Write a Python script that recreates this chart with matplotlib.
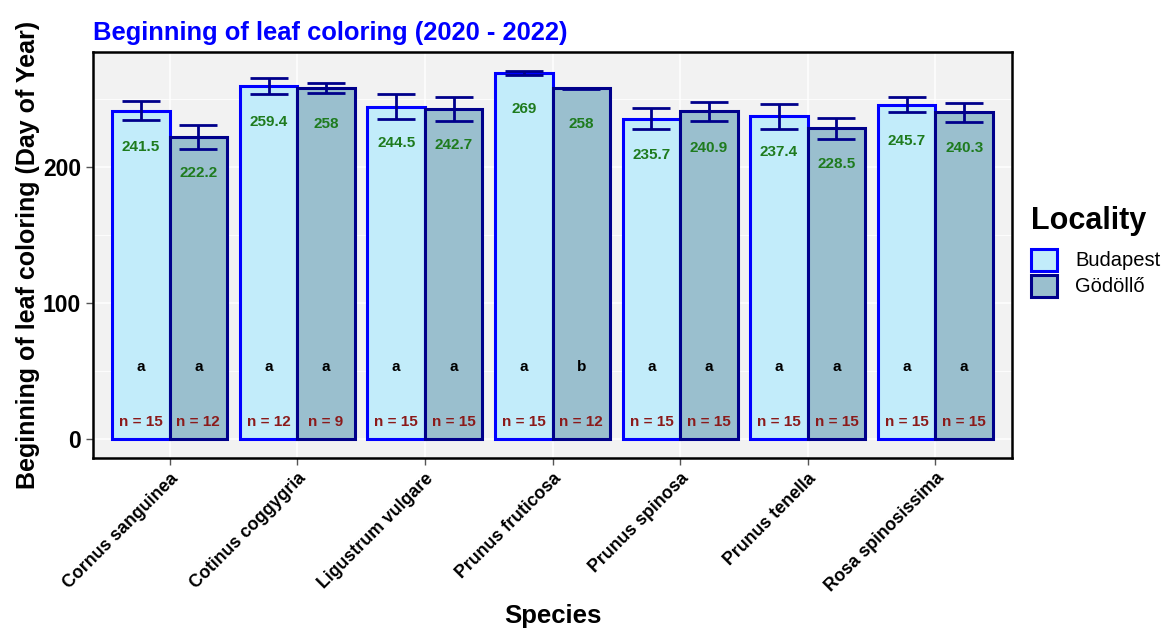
import matplotlib
matplotlib.use("Agg")
import matplotlib.pyplot as plt
import numpy as np
from matplotlib.patches import Patch

species = ["Cornus sanguinea", "Cotinus coggygria", "Ligustrum vulgare", "Prunus fruticosa",
           "Prunus spinosa", "Prunus tenella", "Rosa spinosissima"]
localities = ["Budapest", "Gödöllő"]
mean_bud = [241.5, 259.4, 244.5, 269.0, 235.7, 237.4, 245.7]
mean_god = [222.2, 258.0, 242.7, 258.0, 240.9, 228.5, 240.3]
se_bud = [7.0, 6.0, 9.0, 1.5, 8.0, 9.0, 5.5]
se_god = [8.5, 3.7, 9.0, 0.5, 7.0, 7.7, 7.0]
mean_lab_bud = ["241.5", "259.4", "244.5", "269", "235.7", "237.4", "245.7"]
mean_lab_god = ["222.2", "258", "242.7", "258", "240.9", "228.5", "240.3"]
letters_bud = ["a", "a", "a", "a", "a", "a", "a"]
letters_god = ["a", "a", "a", "b", "a", "a", "a"]
n_bud = [15, 12, 15, 15, 15, 15, 15]
n_god = [12, 9, 15, 12, 15, 15, 15]

plt.rcParams['font.family'] = ['Liberation Sans', 'DejaVu Sans']

fig = plt.figure(figsize=(11.61, 6.29), dpi=100)
ax = fig.add_axes([93/1161, 1 - 458/629, (1012 - 93)/1161, (458 - 52)/629])

fills = ["#C2ECFA", "#9ABFCE"]
edges = ["#0000FF", "#00008B"]
means = [mean_bud, mean_god]
ses = [se_bud, se_god]
mlabs = [mean_lab_bud, mean_lab_god]
lets = [letters_bud, letters_god]
ns = [n_bud, n_god]

x = np.arange(len(species))
bw = 0.45
for j in range(2):
    xp = x + (j - 0.5) * bw
    ax.bar(xp, means[j], width=bw, color=fills[j], edgecolor=edges[j], linewidth=2.2, zorder=3)
    ax.errorbar(xp, means[j], yerr=ses[j], fmt='none', ecolor="#00008B", elinewidth=2,
                capsize=13.7, capthick=2, zorder=4)
    for i in range(len(species)):
        ax.text(xp[i], means[j][i] - 26.5, mlabs[j][i], ha='center', va='center',
                color="#1E7B1E", fontsize=11, fontweight='bold', zorder=5)
        ax.text(xp[i], 53, lets[j][i], ha='center', va='center',
                color="black", fontsize=11, fontweight='bold', zorder=5)
        ax.text(xp[i], 12.5, f"n = {ns[j][i]}", ha='center', va='center',
                color="#8B1A1A", fontsize=11, fontweight='bold', zorder=5)

ax.set_xlim(-0.6, len(species) - 0.4)
ax.set_ylim(-13.6, 284.6)
ax.set_facecolor("#F2F2F2")
ax.set_yticks([0, 100, 200])
ax.set_yticks([50, 150, 250], minor=True)
ax.set_xticks(x)
ax.grid(True, which='major', color='white', linewidth=1.1, zorder=0)
ax.grid(True, which='minor', axis='y', color='white', linewidth=0.6, zorder=0)
ax.set_axisbelow(True)
ax.tick_params(axis='y', which='minor', length=0)
ax.tick_params(axis='both', which='major', length=5, width=1, color='#555555')
ax.set_yticklabels(["0", "100", "200"], fontsize=16.5, fontweight='bold')
ax.set_xticklabels(species, rotation=45, ha='right', rotation_mode='anchor',
                   fontsize=12.8, fontweight='bold')
for s in ax.spines.values():
    s.set_linewidth(1.8)
    s.set_color('black')

ax.set_ylabel("Beginning of leaf coloring (Day of Year)", fontsize=18, fontweight='bold', labelpad=2)
ax.set_xlabel("Species", fontsize=18.5, fontweight='bold', labelpad=6)
fig.text(93/1161, 1 - 33/629, "Beginning of leaf coloring (2020 - 2022)", color="#0000FF",
         fontsize=18.4, fontweight='bold', ha='left', va='center')

handles = [Patch(facecolor=fills[k], edgecolor=edges[k], linewidth=2.2, label=localities[k]) for k in range(2)]
leg = ax.legend(handles=handles, title="Locality", loc='upper left', bbox_to_anchor=(1.012, 0.64),
                frameon=False, fontsize=14.5, title_fontproperties={'weight': 'bold', 'size': 22},
                handlelength=1.3, handleheight=1.3, handletextpad=0.9, labelspacing=0.2,
                borderaxespad=0)
leg._legend_box.align = "left"
leg._legend_box.sep = 9

fig.savefig("out.png", dpi=100)
